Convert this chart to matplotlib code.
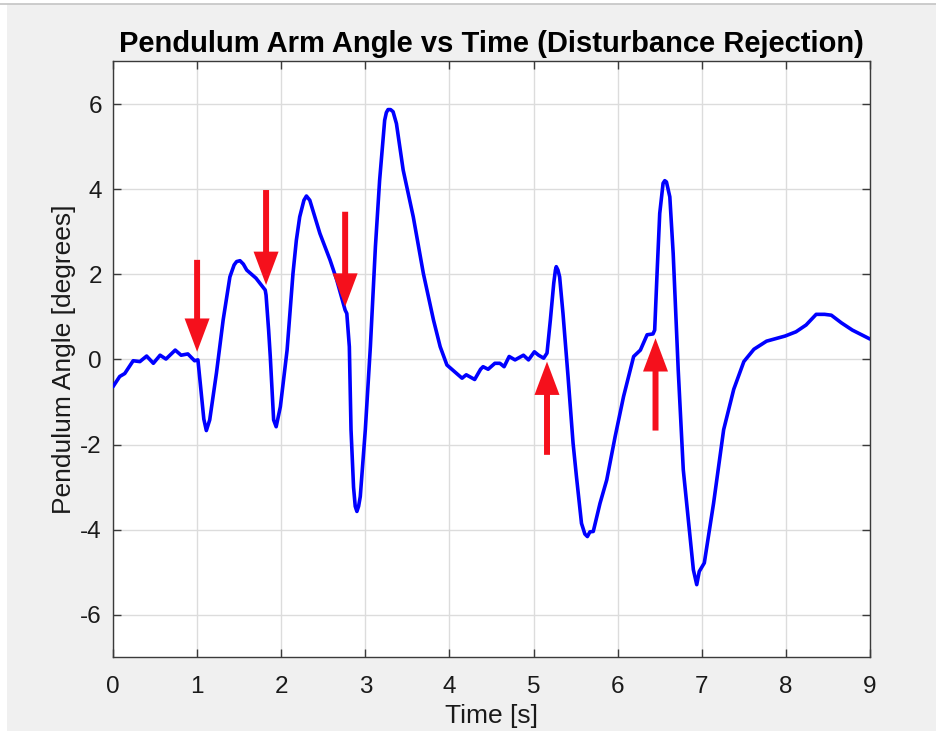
import matplotlib
matplotlib.use("Agg")
import matplotlib.pyplot as plt
from matplotlib.patches import Rectangle
import numpy as np

plt.rcParams['font.family'] = ['Liberation Sans', 'DejaVu Sans']
plt.rcParams['axes.unicode_minus'] = False

# traced pendulum angle (s, degrees)
t = [0.00, 0.08, 0.14, 0.22, 0.24, 0.32, 0.40, 0.48, 0.56, 0.63, 0.74, 0.81, 0.89, 0.97, 1.01,
     1.05, 1.08, 1.11, 1.15, 1.23, 1.31, 1.39, 1.44, 1.47, 1.51, 1.55, 1.59, 1.70, 1.81, 1.82,
     1.85, 1.87, 1.91, 1.94, 1.99, 2.07, 2.14, 2.18, 2.22, 2.27, 2.30, 2.34, 2.46, 2.58, 2.66,
     2.76, 2.78, 2.81, 2.83, 2.86, 2.88, 2.90, 2.92, 2.94, 3.00, 3.06, 3.12, 3.17, 3.23, 3.25,
     3.27, 3.30, 3.33, 3.37, 3.45, 3.57, 3.69, 3.81, 3.89, 3.97, 4.04, 4.15, 4.20, 4.30, 4.37,
     4.40, 4.46, 4.54, 4.60, 4.65, 4.71, 4.78, 4.88, 4.94, 5.01, 5.06, 5.12, 5.16, 5.20, 5.24,
     5.26, 5.27, 5.29, 5.31, 5.35, 5.41, 5.47, 5.51, 5.57, 5.61, 5.64, 5.67, 5.71, 5.79, 5.87,
     5.97, 6.07, 6.19, 6.27, 6.35, 6.42, 6.44, 6.47, 6.50, 6.54, 6.56, 6.58, 6.62, 6.66, 6.72,
     6.78, 6.86, 6.90, 6.94, 6.97, 7.03, 7.14, 7.26, 7.38, 7.50, 7.62, 7.77, 7.99, 8.12, 8.24,
     8.36, 8.46, 8.54, 8.66, 8.79, 9.00]
angle = [-0.64, -0.40, -0.33, -0.09, -0.03, -0.05, 0.08, -0.09, 0.10, 0.01, 0.22, 0.10, 0.13, -0.03, -0.01,
         -0.80, -1.40, -1.67, -1.42, -0.32, 0.93, 1.94, 2.22, 2.30, 2.32, 2.24, 2.10, 1.91, 1.63, 1.51,
         0.70, 0.07, -1.42, -1.58, -1.11, 0.22, 2.02, 2.80, 3.35, 3.74, 3.84, 3.74, 2.96, 2.34, 1.87,
         1.16, 1.08, 0.30, -1.65, -3.00, -3.45, -3.57, -3.45, -3.22, -1.65, 0.30, 2.65, 4.21, 5.62, 5.80,
         5.87, 5.87, 5.82, 5.54, 4.45, 3.35, 2.02, 0.93, 0.30, -0.13, -0.25, -0.44, -0.36, -0.47, -0.23,
         -0.17, -0.23, -0.09, -0.09, -0.17, 0.07, -0.01, 0.10, -0.01, 0.18, 0.10, 0.03, 0.15, 0.93, 1.79,
         2.10, 2.18, 2.10, 1.94, 1.08, -0.40, -1.97, -2.75, -3.85, -4.10, -4.16, -4.05, -4.04, -3.38, -2.83,
         -1.81, -0.87, 0.07, 0.22, 0.58, 0.60, 0.69, 2.10, 3.43, 4.14, 4.20, 4.17, 3.82, 2.49, -0.25,
         -2.59, -4.16, -4.94, -5.29, -4.98, -4.78, -3.38, -1.65, -0.70, -0.05, 0.24, 0.43, 0.55, 0.65, 0.81,
         1.06, 1.06, 1.04, 0.86, 0.69, 0.48]

# disturbance arrows: (x, tail y, tip y)
arrow_x = [1.00, 1.82, 2.76, 5.16, 6.45]
arrow_tail = [2.34, 3.98, 3.47, -2.24, -1.67]
arrow_tip = [0.18, 1.75, 1.24, -0.05, 0.50]

fig = plt.figure(figsize=(9.36, 7.31), dpi=100, facecolor='#f0f0f0')
fig.patches.append(Rectangle((0, 0.9945), 1, 0.0055, transform=fig.transFigure,
                             facecolor='white', edgecolor='none', zorder=0))
fig.patches.append(Rectangle((0, 0), 0.0075, 1, transform=fig.transFigure,
                             facecolor='white', edgecolor='none', zorder=0))
fig.add_artist(plt.Line2D([0, 1], [0.9945, 0.9945], transform=fig.transFigure,
                          color='#c4c4c4', lw=1.2))

ax = fig.add_axes([0.1207, 0.1006, 0.8088, 0.8153])
ax.plot(t, angle, color='#0000ff', linewidth=2.6, zorder=3,
        solid_joinstyle='round', solid_capstyle='round')

for x, y0, y1 in zip(arrow_x, arrow_tail, arrow_tip):
    ax.annotate('', xy=(x, y1), xytext=(x, y0),
                arrowprops=dict(facecolor='#f5101c', edgecolor='none', width=4.3,
                                headwidth=18, headlength=24, shrink=0),
                zorder=4)

ax.set_xlim(0, 9)
ax.set_ylim(-7, 7)
ax.set_xticks(np.arange(0, 10, 1))
ax.set_yticks(np.arange(-6, 7, 2))
ax.grid(True, color='#dcdcdc', linewidth=1)
ax.set_axisbelow(True)
ax.tick_params(direction='in', top=True, right=True, length=6, width=1,
               color='#3a3a3a', labelsize=17.5, labelcolor='#1a1a1a')
ax.tick_params(axis='x', pad=13)
ax.tick_params(axis='y', pad=8)
for s in ax.spines.values():
    s.set_color('#3a3a3a')
    s.set_linewidth(1)

ax.set_title('Pendulum Arm Angle vs Time (Disturbance Rejection)',
             fontsize=21, fontweight='bold', pad=7)
ax.set_xlabel('Time [s]', fontsize=19, color='#1a1a1a', labelpad=5)
ax.set_ylabel('Pendulum Angle [degrees]', fontsize=19, color='#1a1a1a', labelpad=3)

fig.savefig('out.png', dpi=100, facecolor=fig.get_facecolor())
